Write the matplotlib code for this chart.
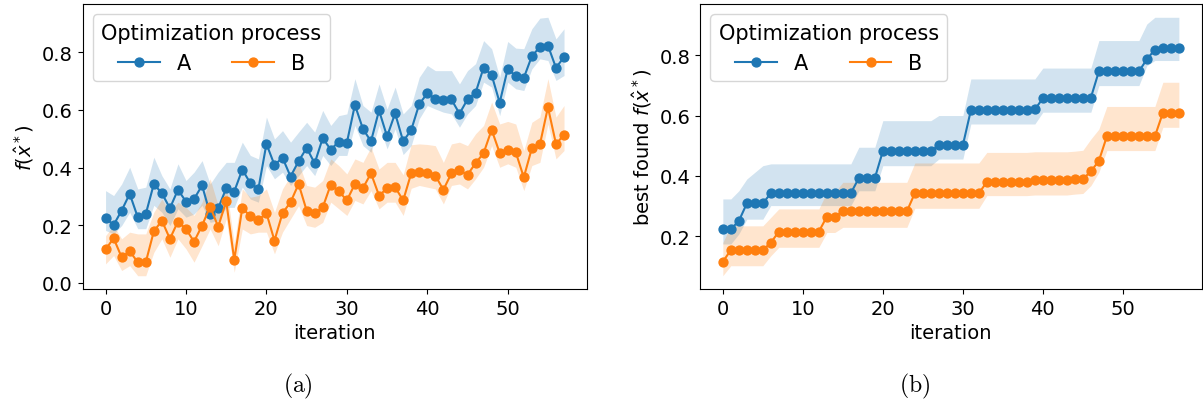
#!/usr/bin/env python3
"""Optimization progress of processes A and B: per-iteration value and best found so far."""

import matplotlib.pyplot as plt
import numpy as np

plt.rcParams["font.size"] = 14

# ---------------------------------------------------------------------------
# Data
# ---------------------------------------------------------------------------

iteration = np.arange(58)

# (a) f(x*) per iteration
a_mean = [0.224, 0.201, 0.251, 0.309, 0.228, 0.239, 0.343, 0.311, 0.259, 0.323,
          0.282, 0.291, 0.338, 0.239, 0.259, 0.328, 0.317, 0.393, 0.346, 0.326,
          0.482, 0.409, 0.434, 0.369, 0.422, 0.468, 0.415, 0.502, 0.462, 0.490,
          0.486, 0.617, 0.534, 0.491, 0.598, 0.508, 0.588, 0.491, 0.530, 0.620,
          0.657, 0.639, 0.635, 0.636, 0.587, 0.636, 0.659, 0.746, 0.721, 0.625,
          0.742, 0.717, 0.711, 0.786, 0.818, 0.823, 0.746, 0.783]
a_upper = [0.320, 0.303, 0.343, 0.401, 0.326, 0.332, 0.436, 0.372, 0.326, 0.413,
           0.355, 0.384, 0.424, 0.343, 0.384, 0.418, 0.418, 0.488, 0.442, 0.430,
           0.575, 0.499, 0.528, 0.488, 0.523, 0.557, 0.523, 0.598, 0.546, 0.580,
           0.586, 0.708, 0.615, 0.592, 0.690, 0.603, 0.679, 0.586, 0.615, 0.713,
           0.754, 0.736, 0.736, 0.736, 0.690, 0.736, 0.760, 0.840, 0.812, 0.713,
           0.837, 0.814, 0.812, 0.881, 0.918, 0.921, 0.846, 0.881]
a_lower = [0.182, 0.170, 0.199, 0.245, 0.188, 0.188, 0.269, 0.245, 0.199, 0.257,
           0.228, 0.239, 0.269, 0.210, 0.216, 0.262, 0.262, 0.332, 0.291, 0.280,
           0.407, 0.361, 0.384, 0.338, 0.372, 0.407, 0.372, 0.442, 0.407, 0.442,
           0.442, 0.546, 0.476, 0.453, 0.546, 0.465, 0.534, 0.445, 0.476, 0.569,
           0.615, 0.603, 0.592, 0.586, 0.540, 0.586, 0.615, 0.696, 0.679, 0.580,
           0.696, 0.673, 0.667, 0.742, 0.777, 0.771, 0.702, 0.719]

b_mean = [0.116, 0.155, 0.089, 0.110, 0.072, 0.072, 0.179, 0.216, 0.153, 0.213,
          0.187, 0.143, 0.199, 0.265, 0.195, 0.283, 0.080, 0.260, 0.231, 0.218,
          0.242, 0.147, 0.242, 0.280, 0.343, 0.251, 0.242, 0.262, 0.341, 0.318,
          0.286, 0.343, 0.329, 0.380, 0.303, 0.328, 0.332, 0.286, 0.380, 0.386,
          0.380, 0.372, 0.323, 0.380, 0.390, 0.375, 0.415, 0.450, 0.531, 0.451,
          0.461, 0.453, 0.366, 0.467, 0.480, 0.609, 0.482, 0.513]
b_upper = [0.164, 0.199, 0.153, 0.176, 0.170, 0.170, 0.245, 0.291, 0.245, 0.280,
           0.262, 0.234, 0.280, 0.361, 0.268, 0.338, 0.135, 0.326, 0.297, 0.303,
           0.326, 0.245, 0.326, 0.372, 0.418, 0.338, 0.332, 0.355, 0.430, 0.407,
           0.378, 0.430, 0.418, 0.471, 0.395, 0.418, 0.418, 0.375, 0.479, 0.482,
           0.480, 0.476, 0.418, 0.482, 0.488, 0.476, 0.517, 0.546, 0.627, 0.551,
           0.560, 0.551, 0.459, 0.557, 0.575, 0.708, 0.575, 0.615]
b_lower = [0.066, 0.095, 0.043, 0.060, 0.025, 0.025, 0.106, 0.153, 0.089, 0.153,
           0.118, 0.072, 0.129, 0.187, 0.129, 0.222, 0.037, 0.187, 0.170, 0.176,
           0.176, 0.101, 0.176, 0.222, 0.268, 0.199, 0.193, 0.210, 0.280, 0.257,
           0.234, 0.286, 0.274, 0.320, 0.257, 0.280, 0.280, 0.234, 0.328, 0.338,
           0.332, 0.326, 0.274, 0.338, 0.343, 0.326, 0.361, 0.401, 0.476, 0.401,
           0.413, 0.401, 0.320, 0.407, 0.418, 0.551, 0.430, 0.459]

# (b) best found f(x*) so far
a_best = [0.224, 0.224, 0.251, 0.309, 0.309, 0.309, 0.343, 0.343, 0.343, 0.343,
          0.343, 0.343, 0.343, 0.343, 0.343, 0.343, 0.343, 0.393, 0.393, 0.393,
          0.482, 0.482, 0.482, 0.482, 0.482, 0.482, 0.482, 0.502, 0.502, 0.502,
          0.502, 0.617, 0.617, 0.617, 0.617, 0.617, 0.617, 0.617, 0.617, 0.620,
          0.657, 0.657, 0.657, 0.657, 0.657, 0.657, 0.659, 0.746, 0.746, 0.746,
          0.746, 0.746, 0.746, 0.786, 0.818, 0.823, 0.823, 0.823]
a_best_upper = [0.324, 0.324, 0.351, 0.390, 0.412, 0.434, 0.440, 0.440, 0.440, 0.440,
                0.440, 0.440, 0.440, 0.440, 0.440, 0.440, 0.440, 0.495, 0.495, 0.495,
                0.583, 0.583, 0.583, 0.583, 0.583, 0.583, 0.583, 0.600, 0.600, 0.600,
                0.600, 0.721, 0.721, 0.721, 0.721, 0.721, 0.721, 0.721, 0.721, 0.721,
                0.757, 0.757, 0.757, 0.757, 0.757, 0.757, 0.757, 0.848, 0.848, 0.848,
                0.848, 0.848, 0.848, 0.903, 0.925, 0.925, 0.925, 0.925]
a_best_lower = [0.175, 0.175, 0.208, 0.257, 0.257, 0.257, 0.302, 0.302, 0.302, 0.302,
                0.302, 0.302, 0.302, 0.302, 0.302, 0.302, 0.302, 0.351, 0.351, 0.351,
                0.434, 0.434, 0.434, 0.434, 0.434, 0.434, 0.434, 0.456, 0.456, 0.456,
                0.456, 0.572, 0.572, 0.572, 0.572, 0.572, 0.572, 0.572, 0.572, 0.572,
                0.611, 0.611, 0.611, 0.611, 0.611, 0.611, 0.611, 0.699, 0.699, 0.699,
                0.699, 0.699, 0.699, 0.765, 0.782, 0.782, 0.782, 0.782]

b_best = [0.116, 0.155, 0.155, 0.155, 0.155, 0.155, 0.179, 0.216, 0.216, 0.216,
          0.216, 0.216, 0.216, 0.265, 0.265, 0.283, 0.283, 0.283, 0.283, 0.283,
          0.283, 0.283, 0.283, 0.283, 0.343, 0.343, 0.343, 0.343, 0.343, 0.343,
          0.343, 0.343, 0.343, 0.380, 0.380, 0.380, 0.380, 0.380, 0.380, 0.386,
          0.386, 0.386, 0.386, 0.386, 0.390, 0.390, 0.415, 0.450, 0.531, 0.531,
          0.531, 0.531, 0.531, 0.531, 0.531, 0.609, 0.609, 0.609]
b_best_upper = [0.180, 0.235, 0.235, 0.235, 0.235, 0.235, 0.263, 0.291, 0.291, 0.291,
                0.291, 0.291, 0.291, 0.346, 0.346, 0.379, 0.379, 0.379, 0.379, 0.379,
                0.379, 0.379, 0.379, 0.379, 0.443, 0.443, 0.443, 0.443, 0.443, 0.443,
                0.443, 0.443, 0.443, 0.478, 0.478, 0.478, 0.478, 0.478, 0.478, 0.480,
                0.480, 0.480, 0.480, 0.480, 0.482, 0.485, 0.522, 0.555, 0.630, 0.630,
                0.630, 0.630, 0.630, 0.630, 0.630, 0.710, 0.710, 0.710]
b_best_lower = [0.070, 0.103, 0.103, 0.103, 0.103, 0.103, 0.136, 0.164, 0.164, 0.164,
                0.164, 0.164, 0.164, 0.213, 0.213, 0.230, 0.230, 0.230, 0.230, 0.230,
                0.230, 0.230, 0.230, 0.230, 0.293, 0.293, 0.293, 0.293, 0.293, 0.293,
                0.293, 0.293, 0.293, 0.335, 0.335, 0.335, 0.335, 0.335, 0.335, 0.337,
                0.337, 0.337, 0.337, 0.337, 0.340, 0.342, 0.368, 0.412, 0.484, 0.484,
                0.484, 0.484, 0.484, 0.484, 0.484, 0.561, 0.561, 0.561]

SERIES_LABELS = ["A", "B"]
COLORS = ["#1f77b4", "#ff7f0e"]


def draw_panel(ax, means, uppers, lowers, ylabel):
    for mean, up, lo, label, col in zip(means, uppers, lowers, SERIES_LABELS, COLORS):
        ax.fill_between(iteration, lo, up, color=col, alpha=0.2, lw=0)
        ax.plot(iteration, mean, "o-", color=col, ms=6.4, label=label)
    ax.set_xlabel("iteration")
    ax.set_ylabel(ylabel)
    ax.set_xticks([0, 10, 20, 30, 40, 50])
    ax.legend(title="Optimization process", ncol=2, loc="upper left",
              title_fontsize=15, fontsize=15)


fig = plt.figure(figsize=(12.03, 4.06), dpi=100)

ax_a = fig.add_axes([0.0687, 0.2857, 0.4192, 0.702])
draw_panel(ax_a, [a_mean, b_mean], [a_upper, b_upper], [a_lower, b_lower],
           r"$f(\hat{x}^*)$")
ax_a.set_ylim(-0.021, 0.967)
ax_a.set_yticks([0.0, 0.2, 0.4, 0.6, 0.8])

ax_b = fig.add_axes([0.5819, 0.2857, 0.4170, 0.702])
draw_panel(ax_b, [a_best, b_best], [a_best_upper, b_best_upper],
           [a_best_lower, b_best_lower], r"best found $f(\hat{x}^*)$")
ax_b.set_ylim(0.026, 0.969)
ax_b.set_yticks([0.2, 0.4, 0.6, 0.8])

# sub-figure captions in Computer Modern
fig.text(298 / 1203, 1 - 386 / 406, r"$\mathrm{(a)}$", ha="center", va="center",
         fontsize=17, math_fontfamily="cm")
fig.text(915 / 1203, 1 - 386 / 406, r"$\mathrm{(b)}$", ha="center", va="center",
         fontsize=17, math_fontfamily="cm")

fig.savefig("out.png", dpi=100)
